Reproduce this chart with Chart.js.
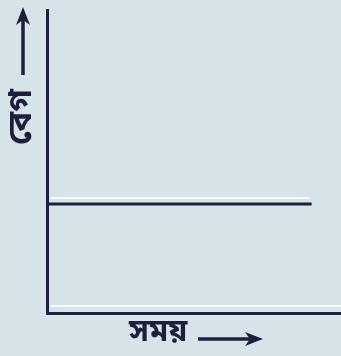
<!DOCTYPE html>
<html>
<head>
<meta charset="utf-8">
<script src="https://cdn.jsdelivr.net/npm/chart.js@4.4.1/dist/chart.umd.min.js"></script>
<style>
  html, body { margin: 0; padding: 0; background: #d6e3e9; }
  #wrap { width: 341px; height: 356px; position: relative; }
</style>
</head>
<body>
<div id="wrap"><canvas id="graph"></canvas></div>
<script>
// velocity stays the same as time goes on
const timePoints = [0, 9];
const velocity = [3.6, 3.6];
const xLabel = 'সময়';
const yLabel = 'বেগ';

const ink = '#1d1f3d';

// arrow helper for the axis captions
function arrow(ctx, x1, y1, x2, y2) {
  let a = Math.atan2(y2 - y1, x2 - x1);
  let c = Math.cos(a), s = Math.sin(a);
  ctx.beginPath();
  ctx.moveTo(x1, y1);
  ctx.lineTo(x2 - 10 * c, y2 - 10 * s);
  ctx.stroke();
  ctx.beginPath();
  ctx.moveTo(x2, y2);
  ctx.lineTo(x2 - 18 * c + 7 * s, y2 - 18 * s - 7 * c);
  ctx.lineTo(x2 - 13 * c, y2 - 13 * s);
  ctx.lineTo(x2 - 18 * c - 7 * s, y2 - 18 * s + 7 * c);
  ctx.closePath();
  ctx.fill();
}

// pale streaks printed just above the dark lines
const sheen = {
  id: 'sheen',
  beforeDatasetsDraw(chart) {
    let ctx = chart.ctx;
    let area = chart.chartArea;
    let y = chart.scales.y.getPixelForValue(velocity[0]);
    let xEnd = chart.scales.x.getPixelForValue(timePoints[timePoints.length - 1]);
    ctx.save();
    ctx.strokeStyle = 'rgba(255,255,255,0.85)';
    ctx.lineWidth = 2;
    ctx.beginPath();
    ctx.moveTo(area.left + 4, y - 6);
    ctx.lineTo(xEnd - 2, y - 6);
    ctx.moveTo(area.left + 4, area.bottom - 7);
    ctx.lineTo(area.right, area.bottom - 7);
    ctx.stroke();
    ctx.restore();
  }
};

const captions = {
  id: 'captions',
  afterDraw(chart) {
    let ctx = chart.ctx;
    let area = chart.chartArea;
    ctx.save();
    ctx.fillStyle = ink;
    ctx.strokeStyle = ink;
    ctx.lineWidth = 3.5;

    // x caption under the axis
    ctx.font = 'bold 31px "Noto Sans Bengali", "Noto Sans", sans-serif';
    ctx.textBaseline = 'middle';
    ctx.textAlign = 'left';
    ctx.fillText(xLabel, area.left + 82, area.bottom + 22);
    arrow(ctx, area.left + 151, area.bottom + 26, area.left + 216, area.bottom + 26);

    // y caption left of the axis, reading upwards
    ctx.save();
    ctx.translate(area.left - 22, area.top + 107);
    ctx.rotate(-Math.PI / 2);
    ctx.textAlign = 'center';
    ctx.font = 'bold 33px "Noto Sans Bengali", "Noto Sans", sans-serif';
    ctx.fillText(yLabel, 0, 0);
    ctx.restore();
    arrow(ctx, area.left - 24, area.top + 65, area.left - 24, area.top - 3);
    ctx.restore();
  }
};

new Chart(document.getElementById('graph'), {
  type: 'line',
  data: {
    datasets: [{
      data: timePoints.map((t, i) => ({ x: t, y: velocity[i] })),
      borderColor: ink,
      borderWidth: 3,
      pointRadius: 0
    }]
  },
  options: {
    animation: false,
    responsive: true,
    maintainAspectRatio: false,
    layout: { padding: { left: 39, top: 10, right: 0, bottom: 35 } },
    plugins: { legend: { display: false }, tooltip: { enabled: false } },
    scales: {
      x: {
        type: 'linear', min: 0, max: 10,
        ticks: { display: false },
        grid: { display: false },
        border: { display: true, color: ink, width: 3 }
      },
      y: {
        min: 0, max: 10,
        ticks: { display: false },
        grid: { display: false },
        border: { display: true, color: ink, width: 3 }
      }
    }
  },
  plugins: [sheen, captions]
});
</script>
</body>
</html>
